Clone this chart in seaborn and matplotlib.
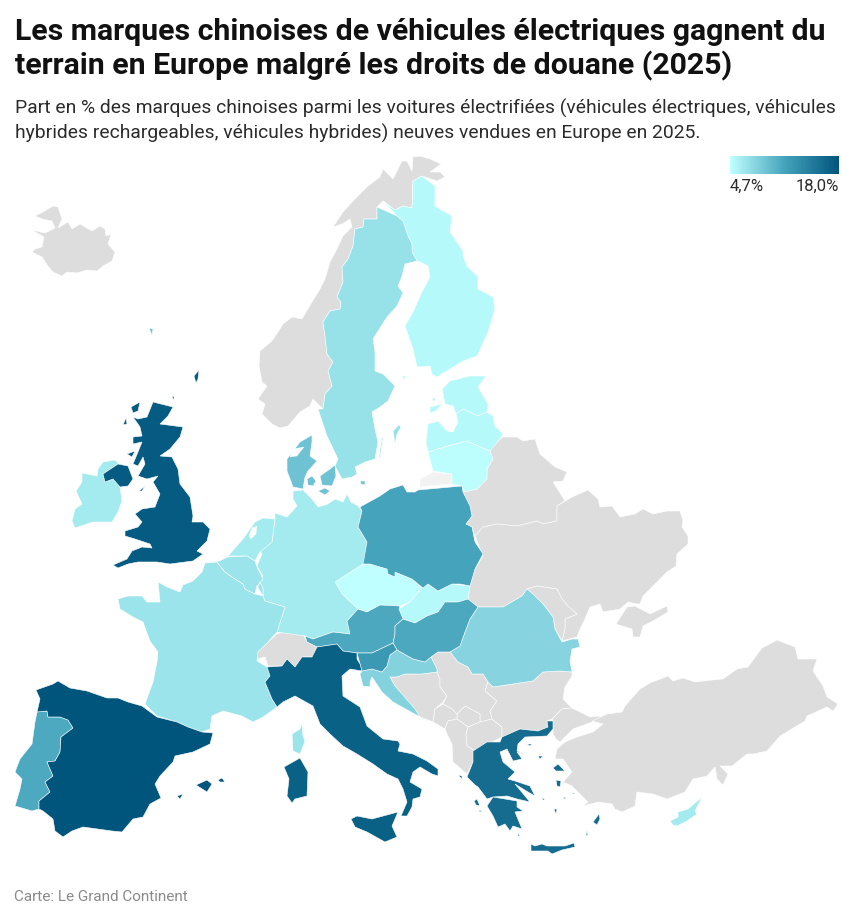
import numpy as np
import seaborn as sns
import matplotlib
matplotlib.use("Agg")
import matplotlib.pyplot as plt
from matplotlib.colors import Normalize

TITLE = ["Les marques chinoises de véhicules électriques gagnent du",
         "terrain en Europe malgré les droits de douane (2025)"]
SUBTITLE = ["Part en % des marques chinoises parmi les voitures électrifiées (véhicules électriques, véhicules",
            "hybrides rechargeables, véhicules hybrides) neuves vendues en Europe en 2025."]
SOURCE = "Carte: Le Grand Continent"
LEGEND_LABELS = ["4,7%", "18,0%"]
VMIN = 4.7
VMAX = 18.0

COUNTRIES = ["Tchéquie", "Finlande", "Estonie", "Lettonie", "Lituanie", "Slovaquie", "Allemagne",
             "Irlande", "Pays-Bas", "Chypre", "France", "Belgique", "Luxembourg", "Suède", "Roumanie",
             "Croatie", "Danemark", "Autriche", "Hongrie", "Portugal", "Pologne", "Slovénie",
             "Grèce", "Italie", "Royaume-Uni", "Espagne"]
SHARES = [4.7, 5.2, 5.2, 5.2, 4.9, 5.2, 6.2,
          6.2, 6.2, 6.2, 6.7, 6.7, 6.7, 6.9, 7.8,
          8.0, 9.1, 11.0, 11.0, 10.9, 11.3, 12.2,
          16.0, 17.0, 17.5, 18.0]

# outlines, in picture pixels
ICELAND = [(32,231),(45,234),(55,229),(52,222),(42,220),(35,217),(43,213),(53,207),(58,208),(62,220),(58,229),(68,223),(72,230),(80,225),(85,228),(92,232),(100,227),(105,230),(106,237),(111,235),(108,245),(115,253),(112,262),(103,267),(97,272),(87,271),(77,274),(67,273),(62,277),(53,273),(48,267),(42,258),(32,253),(35,250),(42,248),(44,238)]
NORWAY = [(323,410),(325,395),(332,387),(328,372),(333,363),(327,355),(325,337),(323,323),(330,312),(340,310),(341,303),(337,298),(343,283),(342,268),(348,260),(353,247),(355,230),(363,228),(364,220),(377,220),(377,208),(383,202),(395,211),(403,207),(412,209),(413,182),(422,177),(437,182),(445,178),(440,173),(430,173),(441,165),(430,160),(420,157),(413,158),(412,172),(407,162),(402,162),(393,180),(383,170),(380,178),(368,187),(360,195),(353,202),(343,213),(333,228),(342,225),(350,220),(352,228),(343,237),(337,250),(330,263),(325,280),(320,290),(312,303),(302,320),(292,318),(283,325),(278,333),(272,342),(260,352),(259,367),(262,383),(267,387),(258,400),(265,405),(262,415),(272,425),(280,429),(288,427),(300,413),(310,407),(313,400)]
SWEDEN = [(377,208),(397,217),(403,222),(408,237),(412,245),(412,253),(417,262),(405,265),(402,277),(398,287),(403,294),(397,307),(387,318),(378,332),(373,340),(375,353),(375,372),(383,375),(395,387),(388,402),(380,408),(372,413),(375,430),(378,443),(375,460),(365,463),(355,468),(357,475),(352,478),(342,480),(335,467),(338,460),(327,437),(323,425),(318,410),(323,410),(325,395),(332,387),(328,372),(333,363),(327,355),(325,337),(323,323),(330,312),(340,310),(341,303),(337,298),(343,283),(342,268),(348,260),(353,247),(355,230),(363,228),(364,220),(377,220)]
GOTLAND = [(393,432),(399,426),(401,428),(397,435),(395,445)]
OLAND = [(379,458),(382,438),(383,439),(380,459)]
FINLAND = [(383,202),(395,211),(403,207),(412,209),(413,182),(422,177),(435,187),(435,207),(440,210),(452,217),(450,233),(463,252),(463,257),(467,267),(472,272),(478,278),(478,290),(493,298),(495,310),(488,333),(477,357),(463,362),(437,378),(432,375),(430,367),(417,368),(413,350),(405,327),(413,313),(422,293),(430,278),(428,267),(420,263),(417,262),(412,253),(412,245),(408,237),(403,222),(397,217)]
ALAND = [(402,377),(406,377),(404,381)]
ESTONIA = [(442,390),(450,382),(470,377),(486,377),(478,388),(488,405),(487,413),(478,417),(463,410),(456,415),(453,407),(445,405)]
SAAREMAA = [(430,408),(442,405),(436,412),(430,414)]
HIIUMAA = [(432,398),(436,400),(433,403)]
LATVIA = [(428,425),(438,422),(447,432),(453,433),(458,423),(456,415),(463,410),(478,417),(487,413),(493,417),(495,427),(503,435),(500,440),(490,452),(480,448),(467,442),(448,447),(428,453),(426,443)]
LITHUANIA = [(428,453),(448,447),(467,442),(480,448),(490,452),(493,460),(487,470),(487,480),(477,490),(465,493),(462,487),(452,485),(452,475),(433,472),(430,460)]
KALININGRAD = [(420,480),(433,473),(452,475),(452,485),(420,488)]
BELARUS = [(490,452),(492,447),(503,438),(517,438),(523,442),(535,440),(540,455),(555,468),(567,473),(563,482),(553,483),(565,502),(557,507),(557,522),(543,525),(537,522),(517,527),(497,525),(483,528),(475,537),(472,528),(466,525),(472,517),(470,507),(463,493),(477,490),(487,480),(487,470),(493,460)]
UKRAINE = [(475,537),(483,528),(497,525),(517,527),(537,522),(543,525),(557,522),(557,507),(572,498),(588,491),(598,500),(600,508),(612,507),(620,518),(635,515),(643,510),(653,515),(667,512),(680,512),(683,522),(682,528),(688,537),(688,545),(677,555),(676,567),(667,573),(653,587),(643,597),(640,605),(637,605),(628,603),(620,610),(603,613),(600,605),(590,608),(585,620),(580,630),(577,638),(562,642),(565,630),(565,620),(577,615),(568,607),(562,600),(557,590),(537,587),(527,590),(522,597),(503,608),(478,608),(468,600),(470,587),(475,570),(483,557)]
CRIMEA = [(616,625),(627,608),(635,607),(650,615),(667,607),(668,613),(653,622),(643,627),(640,638),(633,638),(632,630),(622,627)]
MOLDOVA = [(527,590),(537,587),(557,590),(562,600),(568,607),(577,615),(565,620),(565,630),(562,642),(555,630),(553,618),(543,605),(533,595)]
POLAND = [(380,497),(390,490),(403,486),(407,493),(415,493),(418,491),(462,487),(463,493),(470,507),(472,517),(466,525),(472,528),(475,543),(483,555),(475,570),(470,587),(460,585),(452,585),(438,592),(428,585),(423,589),(412,580),(395,573),(395,578),(388,575),(387,570),(380,568),(370,565),(363,565),(367,543),(358,528),(362,512),(360,508)]
GERMANY = [(293,492),(303,491),(312,500),(318,508),(328,505),(335,500),(343,503),(347,495),(351,503),(358,507),(362,512),(358,528),(367,543),(370,565),(363,565),(335,583),(342,595),(358,610),(347,622),(350,635),(333,633),(313,640),(305,637),(277,633),(285,608),(265,602),(263,597),(263,590),(260,583),(263,577),(257,567),(262,555),(260,552),(272,543),(275,520),(275,514),(287,518),(297,507),(293,500)]
NETHERLANDS = [(275,520),(263,519),(255,523),(243,540),(228,557),(238,557),(247,557),(255,562),(260,553),(272,543)]
IJSSELMEER = [(252,529),(257,527),(256,535),(251,540),(249,537)]
BELGIUM = [(228,558),(217,563),(225,573),(235,580),(243,585),(245,590),(255,595),(257,587),(263,580),(257,568),(255,562),(247,557)]
LUXEMBOURG = [(257,587),(263,597),(263,590),(260,583),(255,595)]
FRANCE = [(217,563),(205,564),(202,573),(193,582),(183,586),(180,593),(167,588),(158,583),(160,603),(147,603),(142,597),(128,597),(118,600),(120,610),(133,618),(143,623),(148,637),(150,642),(158,653),(157,663),(153,683),(145,705),(157,717),(177,723),(188,728),(202,733),(210,730),(212,717),(223,712),(242,717),(253,723),(263,718),(277,708),(272,700),(265,683),(270,677),(267,668),(257,662),(258,653),(268,643),(277,633),(285,608),(265,602),(263,597),(255,595),(245,590),(243,585),(235,580),(225,573)]
CORSICA = [(302,725),(303,737),(305,742),(300,755),(293,752),(292,735),(300,730)]
SWITZERLAND = [(257,660),(258,653),(268,643),(277,635),(292,630),(303,635),(307,643),(317,648),(312,658),(302,658),(295,668),(287,660),(282,667),(268,667),(265,658)]
ITALY = [(267,668),(282,667),(287,660),(295,668),(302,658),(312,658),(317,648),(337,645),(343,652),(357,654),(357,660),(360,665),(362,672),(350,670),(342,677),(343,697),(360,708),(367,727),(383,740),(398,742),(400,745),(398,752),(413,755),(427,762),(438,770),(438,777),(432,775),(420,768),(413,773),(410,783),(422,790),(420,798),(413,800),(412,808),(407,817),(401,817),(407,803),(403,790),(398,780),(387,775),(373,765),(357,755),(343,747),(330,735),(320,725),(313,707),(295,697),(283,703),(277,708),(272,700),(265,683),(270,677)]
SICILY = [(351,820),(357,817),(372,820),(398,813),(392,827),(397,838),(385,843),(367,833),(355,828)]
SARDINIA = [(284,768),(300,759),(308,773),(307,797),(295,800),(292,804),(287,797),(289,780)]
SPAIN = [(36,691),(53,685),(58,682),(70,689),(87,692),(107,699),(118,699),(128,703),(142,707),(157,718),(177,723),(188,728),(202,733),(213,734),(210,745),(193,753),(175,757),(173,763),(160,777),(155,785),(161,799),(150,805),(143,818),(133,820),(122,833),(112,832),(83,828),(72,832),(63,838),(55,832),(53,820),(43,812),(39,810),(39,802),(50,793),(45,783),(53,777),(47,763),(55,762),(60,753),(61,738),(73,729),(68,721),(60,718),(48,718),(47,712),(37,713),(40,700)]
PORTUGAL = [(37,713),(47,712),(48,718),(60,718),(68,721),(73,729),(61,738),(60,753),(55,762),(47,763),(53,777),(45,783),(50,793),(39,802),(39,810),(32,812),(15,807),(20,790),(22,780),(15,773),(20,760),(32,745),(35,723)]
MALLORCA = [(196,786),(207,781),(212,785),(207,793)]
MENORCA = [(218,781),(222,779),(225,783),(220,783)]
IBIZA = [(177,797),(183,795),(180,800)]
BRITAIN = [(153,403),(173,408),(168,417),(160,425),(183,428),(180,438),(170,450),(160,457),(172,458),(178,470),(180,485),(190,498),(193,517),(192,523),(203,523),(210,530),(207,542),(197,552),(203,555),(193,562),(170,565),(157,563),(138,563),(128,565),(118,569),(113,566),(127,560),(132,552),(142,548),(152,549),(150,545),(135,540),(125,537),(125,532),(138,528),(142,523),(135,515),(142,510),(155,508),(160,495),(153,483),(158,477),(147,480),(138,477),(145,465),(143,458),(138,467),(133,465),(138,453),(142,443),(133,445),(133,438),(142,437),(140,428),(133,418),(138,420),(147,418)]
NORTHERN_IRELAND = [(103,475),(118,465),(128,467),(133,480),(128,487),(120,488),(113,480),(105,483)]
IRELAND = [(98,470),(103,463),(115,461),(120,466),(118,465),(103,475),(105,483),(113,480),(120,488),(122,502),(118,513),(112,523),(93,523),(75,529),(72,522),(75,510),(82,505),(76,492),(82,483),(82,474),(97,477)]
LEWIS = [(131,408),(140,403),(138,412),(133,414)]
UIST = [(123,426),(126,419),(127,425)]
ISLAY = [(127,455),(135,452),(132,458)]
MAN = [(139,492),(145,487),(142,492)]
SHETLAND = [(194,377),(199,371),(198,380),(196,384)]
ORKNEY = [(172,398),(174,397),(174,401)]
FAROE = [(149,329),(153,330),(152,336)]
JUTLAND = [(287,460),(300,443),(312,436),(312,443),(310,457),(317,462),(308,472),(305,478),(303,490),(293,488),(287,472)]
LIMFJORD = [(290,458),(292,450),(304,448),(297,457)]
ZEALAND = [(320,477),(330,470),(335,466),(336,477),(332,487),(322,486)]
FUNEN = [(307,480),(312,477),(316,482),(313,487),(308,486)]
LOLLAND = [(318,492),(325,489),(330,492),(325,496)]
BORNHOLM = [(360,482),(365,482),(365,486),(361,485)]
CZECHIA = [(335,583),(363,565),(370,565),(380,568),(387,570),(388,575),(395,578),(395,573),(412,580),(422,589),(410,603),(400,607),(380,606),(367,613),(358,610),(342,595)]
SLOVAKIA = [(422,589),(428,585),(438,592),(452,585),(470,587),(468,600),(458,603),(445,603),(438,613),(427,617),(415,624),(403,620),(399,610),(410,603)]
AUSTRIA = [(347,622),(358,610),(367,613),(380,606),(400,607),(399,610),(403,620),(395,627),(395,635),(393,644),(372,654),(357,654),(343,652),(337,645),(317,648),(307,643),(305,637),(313,640),(333,633),(350,635)]
HUNGARY = [(403,620),(395,627),(395,635),(393,644),(397,651),(413,660),(425,663),(431,658),(438,653),(450,653),(460,647),(465,633),(470,620),(478,608),(468,600),(458,603),(445,603),(438,613),(427,617),(415,624)]
ROMANIA = [(478,608),(503,608),(522,597),(527,590),(533,595),(543,605),(553,618),(555,630),(562,643),(572,640),(578,640),(580,648),(572,650),(570,662),(572,673),(560,672),(543,673),(533,682),(513,685),(493,688),(488,683),(483,675),(472,675),(468,668),(458,663),(450,653),(460,647),(465,633),(470,620)]
SLOVENIA = [(357,654),(372,654),(393,644),(397,651),(390,656),(387,667),(382,673),(372,670),(362,672),(360,665)]
CROATIA = [(397,651),(413,660),(425,663),(431,658),(437,670),(437,673),(422,675),(405,675),(397,678),(390,678),(395,687),(415,710),(420,718),(393,703),(382,693),(372,678),(370,683),(370,688),(363,687),(360,675),(362,672),(372,670),(382,673),(387,667),(390,656)]
BOSNIA = [(390,678),(397,678),(405,675),(422,675),(437,673),(440,680),(440,688),(447,697),(443,703),(435,710),(433,723),(420,718),(395,687)]
SERBIA = [(431,658),(438,653),(450,653),(458,663),(468,668),(472,675),(483,675),(488,683),(485,692),(497,702),(490,712),(492,720),(480,723),(480,715),(465,707),(457,715),(452,710),(443,705),(447,697),(440,688),(440,680),(437,673),(437,670)]
KOSOVO = [(457,720),(457,715),(465,707),(480,715),(480,723),(468,728)]
MONTENEGRO = [(443,705),(452,710),(457,715),(457,720),(448,722),(445,730),(433,723),(435,710)]
ALBANIA = [(445,730),(448,722),(457,720),(468,728),(466,735),(467,747),(477,753),(473,763),(467,775),(453,763),(452,745),(448,737)]
MACEDONIA = [(468,728),(480,723),(492,720),(502,728),(502,738),(488,745),(477,753),(467,747),(466,735)]
BULGARIA = [(493,688),(513,685),(533,682),(543,673),(560,672),(572,673),(572,677),(565,688),(563,700),(572,709),(562,710),(552,720),(547,722),(548,728),(538,732),(520,730),(502,738),(502,728),(492,720),(490,712),(497,702),(485,692),(488,683)]
GREECE = [(473,752),(487,743),(500,743),(502,738),(520,730),(538,732),(548,728),(547,722),(553,722),(553,730),(547,737),(525,738),(518,745),(517,752),(525,755),(517,753),(522,760),(513,762),(507,750),(500,753),(503,763),(515,773),(508,780),(515,782),(530,787),(535,797),(528,793),(515,785),(530,803),(517,800),(507,797),(493,798),(487,800),(478,788),(475,786),(467,778),(473,763)]
PELOPONNESE = [(487,807),(493,798),(517,802),(517,808),(523,812),(515,813),(522,830),(513,827),(510,832),(505,825),(498,828),(493,817)]
CRETE = [(531,845),(535,847),(542,845),(547,847),(565,847),(574,844),(575,848),(562,851),(552,855),(548,852),(531,852)]
LESBOS = [(553,769),(558,765),(565,772),(556,772)]
CHIOS = [(556,781),(561,782),(560,788),(557,787)]
RHODES = [(593,823),(599,815),(600,820),(597,826)]
LEMNOS = [(538,757),(543,757),(540,760)]
THASOS = [(527,745),(532,745),(530,747)]
CORFU = [(458,776),(462,777),(462,780)]
KEFALONIA = [(474,802),(477,800),(480,807),(476,806)]
ZAKYNTHOS = [(478,811),(482,812),(480,813)]
SKYROS = [(542,798),(545,801),(543,801)]
NAXOS = [(554,810),(557,810),(556,815)]
ANDROS = [(563,798),(566,799),(564,800)]
AMORGOS = [(572,793),(575,795),(573,795)]
KARPATHOS = [(587,832),(588,837),(586,836)]
KYTHIRA = [(518,834),(520,837),(518,837)]
THRACE = [(552,720),(562,710),(572,709),(590,718),(600,717),(600,722),(592,723),(573,730),(560,743),(556,740),(553,735),(553,722)]
ANATOLIA = [(592,722),(607,715),(622,713),(625,707),(640,690),(650,684),(668,677),(673,682),(683,679),(695,683),(712,681),(723,680),(737,670),(748,668),(762,649),(777,641),(795,648),(798,660),(817,660),(813,672),(823,687),(827,698),(838,705),(833,712),(827,708),(807,717),(805,722),(795,728),(780,737),(767,752),(753,755),(747,755),(732,767),(720,767),(728,775),(723,786),(717,780),(715,768),(707,777),(693,780),(685,793),(667,800),(653,795),(637,793),(635,807),(622,813),(615,810),(612,805),(598,803),(583,807),(588,803),(580,795),(572,787),(563,783),(572,773),(563,760),(555,760),(557,750),(565,743),(577,738),(593,733),(603,725)]
CYPRUS = [(670,822),(678,818),(678,813),(688,810),(702,798),(695,812),(697,815),(687,822),(677,827),(673,826)]

OUTLINES = {
    "Tchéquie": [CZECHIA], "Finlande": [FINLAND, ALAND], "Estonie": [ESTONIA, SAAREMAA, HIIUMAA],
    "Lettonie": [LATVIA], "Lituanie": [LITHUANIA], "Slovaquie": [SLOVAKIA], "Allemagne": [GERMANY],
    "Irlande": [IRELAND], "Pays-Bas": [NETHERLANDS], "Chypre": [CYPRUS], "France": [FRANCE, CORSICA],
    "Belgique": [BELGIUM], "Luxembourg": [LUXEMBOURG], "Suède": [SWEDEN, GOTLAND, OLAND], "Roumanie": [ROMANIA],
    "Croatie": [CROATIA], "Danemark": [JUTLAND, ZEALAND, FUNEN, LOLLAND, BORNHOLM, FAROE],
    "Autriche": [AUSTRIA], "Hongrie": [HUNGARY], "Portugal": [PORTUGAL], "Pologne": [POLAND],
    "Slovénie": [SLOVENIA],
    "Grèce": [GREECE, PELOPONNESE, CRETE, LESBOS, CHIOS, RHODES, LEMNOS, THASOS, CORFU, KEFALONIA,
              ZAKYNTHOS, SKYROS, NAXOS, ANDROS, AMORGOS, KARPATHOS, KYTHIRA],
    "Italie": [ITALY, SICILY, SARDINIA],
    "Royaume-Uni": [BRITAIN, NORTHERN_IRELAND, LEWIS, UIST, ISLAY, MAN, SHETLAND, ORKNEY],
    "Espagne": [SPAIN, MALLORCA, MENORCA, IBIZA],
}
NO_DATA = [ICELAND, NORWAY, BELARUS, UKRAINE, CRIMEA, MOLDOVA, SWITZERLAND, BOSNIA, SERBIA, KOSOVO,
           MONTENEGRO, ALBANIA, MACEDONIA, BULGARIA, THRACE, ANATOLIA]
WATER = [IJSSELMEER, LIMFJORD]

sns.set_theme(style="white")
plt.rcParams['font.family'] = ["Roboto", "DejaVu Sans"]

cmap = sns.blend_palette(["#BFFFFF", "#45A3BC", "#00557C"], as_cmap=True)
norm = Normalize(VMIN, VMAX)

fig = plt.figure(figsize=(8.53, 9.2), dpi=100)
ax = fig.add_axes([0, 0, 1, 1])
ax.set_xlim(0, 853)
ax.set_ylim(920, 0)
ax.axis("off")

for shape in NO_DATA:
    ax.fill(*zip(*shape), facecolor="#DDDDDD", edgecolor="white", linewidth=0.4)
ax.fill(*zip(*KALININGRAD), facecolor="#F2F2F2", edgecolor="white", linewidth=0.4)

for name, share in zip(COUNTRIES, SHARES):
    for shape in OUTLINES[name]:
        ax.fill(*zip(*shape), facecolor=cmap(norm(share)), edgecolor="white", linewidth=0.4)
for shape in WATER:
    ax.fill(*zip(*shape), facecolor="white", edgecolor="white", linewidth=0.2)

# texts
ax.text(15, 32, TITLE[0], fontsize=21.8, fontweight="bold", color="#111111", va="center")
ax.text(15, 66, TITLE[1], fontsize=21.8, fontweight="bold", color="#111111", va="center")
ax.text(15, 108, SUBTITLE[0], fontsize=13.85, color="#2b2b2b", va="center")
ax.text(15, 133, SUBTITLE[1], fontsize=13.85, color="#2b2b2b", va="center")
ax.text(14, 897, SOURCE, fontsize=11, color="#8a8a8a", va="center")
ax.text(730, 186, LEGEND_LABELS[0], fontsize=12, color="#2b2b2b", va="center", ha="left")
ax.text(839, 186, LEGEND_LABELS[1], fontsize=12, color="#2b2b2b", va="center", ha="right")

# legend gradient
cax = fig.add_axes([730 / 853, 1 - 175 / 920, 109 / 853, 18 / 920])
sns.heatmap(np.linspace(VMIN, VMAX, 200).reshape(1, -1), ax=cax, cmap=cmap, vmin=VMIN, vmax=VMAX,
            cbar=False, xticklabels=False, yticklabels=False, rasterized=True)

fig.savefig("out.png", dpi=100)
